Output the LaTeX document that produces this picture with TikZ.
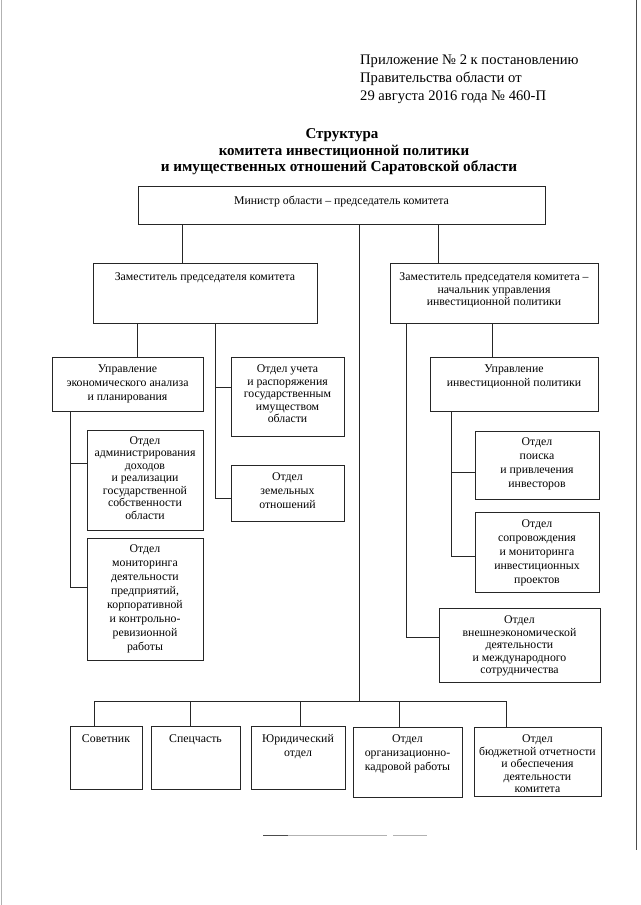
\documentclass[tikz,border=0pt]{standalone}
\usepackage{fontspec}
\setmainfont{Liberation Serif}
\usetikzlibrary{positioning,fit}

\begin{document}
\begin{tikzpicture}[x=1pt,y=-1pt,
    ramka/.style={draw=black!85,line width=0.8pt,inner sep=0pt},
    nadpis/.style={align=center,inner sep=0pt,font=\fontsize{11.8}{12.5}\selectfont},
    shire/.style={font=\fontsize{11.8}{14}\selectfont},
    svyaz/.style={draw=black!85,line width=0.8pt}]
    \def\otdel#1#2#3#4{
    \node[ramka, fit={#3}] (#1) {};
    \node[nadpis, below=8pt of #1.north, #2] (#1t) {#4};
    }

    \useasboundingbox (0,0) rectangle (640,905);

    % Kopf
    \node[anchor=base west, inner sep=0pt, font=\fontsize{14.6}{18}\selectfont] (pril1) at (360,64) {Приложение № 2 к постановлению};
    \node[anchor=base west, inner sep=0pt, font=\fontsize{14.6}{18}\selectfont] (pril2) at (360,82) {Правительства области от};
    \node[anchor=base west, inner sep=0pt, font=\fontsize{14.6}{18}\selectfont] (pril3) at (360,100) {29 августа 2016 года № 460-П};

    \node[anchor=base, inner sep=0pt, font=\fontsize{15}{17}\selectfont\bfseries] (zag1) at (342,138) {Структура};
    \node[anchor=base, inner sep=0pt, font=\fontsize{15}{17}\selectfont\bfseries] (zag2) at (344,155) {комитета инвестиционной политики};
    \node[anchor=base, inner sep=0pt, font=\fontsize{15.2}{17}\selectfont\bfseries] (zag3) at (339,171) {и имущественных отношений Саратовской области};

    % Kaesten
    \otdel{ministr}{yshift=-2pt}{(138,186) (545,224)}{Министр области – председатель комитета}
    \otdel{zam1}{yshift=-2pt}{(93,263) (317,323)}{Заместитель председателя комитета}
    \otdel{zam2}{yshift=-2pt}{(390,263) (598,323)}{Заместитель председателя комитета –\\начальник управления\\инвестиционной политики}
    \otdel{uprekon}{shire}{(52,357) (203,411)}{Управление\\экономического анализа\\и планирования}
    \otdel{uchet}{}{(231,357) (344,436)}{Отдел учета\\и распоряжения\\государственным\\имуществом\\области}
    \otdel{zemel}{shire}{(231,465) (344,521)}{Отдел\\земельных\\отношений}
    \otdel{admin}{yshift=1.5pt}{(87,430) (203,530)}{Отдел\\администрирования\\доходов\\и реализации\\государственной\\собственности\\области}
    \otdel{monit}{shire,yshift=1.5pt}{(87,538) (203,660)}{Отдел\\мониторинга\\деятельности\\предприятий,\\корпоративной\\и контрольно-\\ревизионной\\работы}
    \otdel{uprinv}{shire}{(430,357) (598,411)}{Управление\\инвестиционной политики}
    \otdel{poisk}{shire,yshift=1.5pt}{(475,431) (599,499)}{Отдел\\поиска\\и привлечения\\инвесторов}
    \otdel{soprov}{shire}{(475,512) (599,592)}{Отдел\\сопровождения\\и мониторинга\\инвестиционных\\проектов}
    \otdel{vnesh}{}{(439,608) (600,682)}{Отдел\\внешнеэкономической\\деятельности\\и международного\\сотрудничества}
    \otdel{sovetnik}{yshift=-1pt}{(70,726) (142,789)}{Советник}
    \otdel{spec}{yshift=-1pt}{(151,726) (240,789)}{Спецчасть}
    \otdel{jurid}{shire,yshift=-1pt}{(251,726) (345,789)}{Юридический\\отдел}
    \otdel{orgkadr}{shire}{(353,727) (462,797)}{Отдел\\организационно-\\кадровой работы}
    \otdel{budzhet}{}{(474,727) (601,796)}{Отдел\\бюджетной отчетности\\и обеспечения\\деятельности\\комитета}

    % Linien
    \draw[svyaz] (ministr.south -| 182,0) -- (zam1.north -| 182,0);
    \draw[svyaz] (ministr.south -| 438,0) -- (zam2.north -| 438,0);
    \coordinate (shina) at (359,701);
    \draw[svyaz] (ministr.south -| shina) -- (shina);

    \draw[svyaz] (zam1.south -| 137,0) -- (uprekon.north -| 137,0);
    \draw[svyaz] (zam1.south -| 215,0) |- (zemel.west |- 0,498);
    \draw[svyaz] (uchet.west |- 0,387) -| (zam1.south -| 215,0);
    \draw[svyaz] (uprekon.south -| 70,0) |- (monit.west |- 0,587);
    \draw[svyaz] (admin.west |- 0,463) -| (uprekon.south -| 70,0);

    \draw[svyaz] (zam2.south -| 492,0) -- (uprinv.north -| 492,0);
    \draw[svyaz] (zam2.south -| 406,0) |- (vnesh.west |- 0,637);
    \draw[svyaz] (uprinv.south -| 451,0) |- (soprov.west |- 0,556);
    \draw[svyaz] (poisk.west |- 0,472) -| (uprinv.south -| 451,0);

    \draw[svyaz] (sovetnik.north -| 94,0) |- (shina);
    \draw[svyaz] (spec.north -| 190,0) |- (shina);
    \draw[svyaz] (jurid.north -| 300,0) |- (shina);
    \draw[svyaz] (orgkadr.north -| 399,0) |- (shina);
    \draw[svyaz] (budzhet.north -| 506,0) |- (shina);

    % Rand und Strich unten
    \draw[gray!60, line width=0.6pt] (1,0) -- (1,905);
    \draw[black!70, line width=0.8pt] (636.5,0) -- (636.5,850);
    \draw[black!70, line width=0.8pt] (263,835) -- (288,835);
    \draw[gray!60, line width=0.8pt] (288,835) -- (387,835) (393,835) -- (427,835);
\end{tikzpicture}
\end{document}
